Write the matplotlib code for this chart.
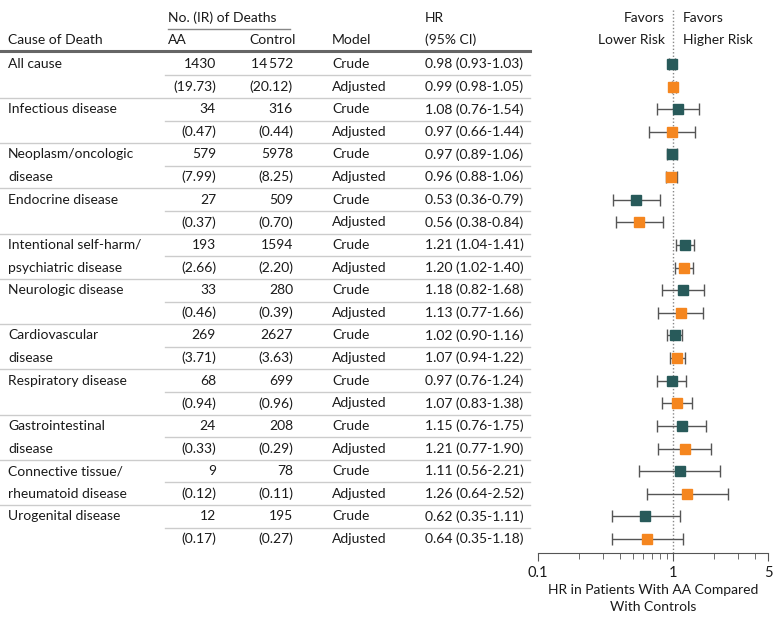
import matplotlib.pyplot as plt
from matplotlib.lines import Line2D
from matplotlib.ticker import FixedLocator, NullFormatter

plt.rcParams['font.family'] = ['Lato', 'DejaVu Sans']

# data
causes = [('All cause', ''), ('Infectious disease', ''), ('Neoplasm/oncologic', 'disease'),
          ('Endocrine disease', ''), ('Intentional self-harm/', 'psychiatric disease'),
          ('Neurologic disease', ''), ('Cardiovascular', 'disease'), ('Respiratory disease', ''),
          ('Gastrointestinal', 'disease'), ('Connective tissue/', 'rheumatoid disease'),
          ('Urogenital disease', '')]
aa_n = ['1430', '34', '579', '27', '193', '33', '269', '68', '24', '9', '12']
ctl_n = ['14\u2009572', '316', '5978', '509', '1594', '280', '2627', '699', '208', '78', '195']
aa_ir = ['19.73', '0.47', '7.99', '0.37', '2.66', '0.46', '3.71', '0.94', '0.33', '0.12', '0.17']
ctl_ir = ['20.12', '0.44', '8.25', '0.70', '2.20', '0.39', '3.63', '0.96', '0.29', '0.11', '0.27']
crude_hr = [0.98, 1.08, 0.97, 0.53, 1.21, 1.18, 1.02, 0.97, 1.15, 1.11, 0.62]
crude_lo = [0.93, 0.76, 0.89, 0.36, 1.04, 0.82, 0.90, 0.76, 0.76, 0.56, 0.35]
crude_hi = [1.03, 1.54, 1.06, 0.79, 1.41, 1.68, 1.16, 1.24, 1.75, 2.21, 1.11]
adj_hr = [0.99, 0.97, 0.96, 0.56, 1.20, 1.13, 1.07, 1.07, 1.21, 1.26, 0.64]
adj_lo = [0.98, 0.66, 0.88, 0.38, 1.02, 0.77, 0.94, 0.83, 0.77, 0.64, 0.35]
adj_hi = [1.05, 1.44, 1.06, 0.84, 1.40, 1.66, 1.22, 1.38, 1.90, 2.52, 1.18]

teal = '#285a5a'
orange = '#f5861f'
W, H = 780, 625
fs = 10

fig = plt.figure(figsize=(7.8, 6.25), dpi=100)


def fx(px):
    return px / W


def fy(py):
    return 1 - py / H


def txt(x, y, s, ha='left', **kw):
    fig.text(fx(x), fy(y), s, ha=ha, va='center', fontsize=fs, color='#1a1a1a', **kw)


def hline(x0, x1, y, color='#cccccc', lw=1.0):
    fig.add_artist(Line2D([fx(x0), fx(x1)], [fy(y), fy(y)], color=color, lw=lw))


row0, step = 64, 22.62

# headers
txt(168, 18, 'No. (IR) of Deaths')
hline(168, 290, 29, color='#888888', lw=1.0)
txt(8, 40, 'Cause of Death')
txt(168, 40, 'AA')
txt(249, 40, 'Control')
txt(332, 40, 'Model')
txt(425, 18, 'HR')
txt(425, 40, '(95% CI)')
hline(0, 530, 51, color='#666666', lw=2.2)

for i in range(len(causes)):
    yc = row0 + 2 * i * step
    ya = yc + step
    txt(8, yc, causes[i][0])
    if causes[i][1]:
        txt(8, ya, causes[i][1])
    txt(216, yc, aa_n[i], ha='right')
    txt(293, yc, ctl_n[i], ha='right')
    txt(216, ya, '(' + aa_ir[i] + ')', ha='right')
    txt(293, ya, '(' + ctl_ir[i] + ')', ha='right')
    txt(332, yc, 'Crude')
    txt(332, ya, 'Adjusted')
    txt(425, yc, '%.2f (%.2f-%.2f)' % (crude_hr[i], crude_lo[i], crude_hi[i]))
    txt(425, ya, '%.2f (%.2f-%.2f)' % (adj_hr[i], adj_lo[i], adj_hi[i]))
    hline(165, 530, yc + step / 2)
    if i < len(causes) - 1:
        hline(0, 530, ya + step / 2)

# forest plot
ax = fig.add_axes([fx(538), fy(553), fx(768) - fx(538), fy(10) - fy(553)])
ax.set_xscale('log')
ax.set_xlim(0.1, 5)
n = len(causes)
yc_rows = [2 * i for i in range(n)]
ya_rows = [2 * i + 1 for i in range(n)]
ax.set_ylim(21 + 14 / step, -54 / step)

ax.axvline(1, color='#888888', lw=1, ls=(0, (1, 1.5)), zorder=1)
for rows, hr, lo, hi, c in [(yc_rows, crude_hr, crude_lo, crude_hi, teal),
                            (ya_rows, adj_hr, adj_lo, adj_hi, orange)]:
    err = [[h - l for h, l in zip(hr, lo)], [u - h for h, u in zip(hr, hi)]]
    ax.errorbar(hr, rows, xerr=err, fmt='none', ecolor='#555555', elinewidth=1,
                capsize=4, capthick=1, zorder=2)
    ax.plot(hr, rows, 's', color=c, markersize=7.5, zorder=3)

for s in ['top', 'right', 'left']:
    ax.spines[s].set_visible(False)
ax.spines['bottom'].set_color('#555555')
ax.set_yticks([])
ax.xaxis.set_major_locator(FixedLocator([0.1, 1, 5]))
ax.set_xticklabels(['0.1', '1', '5'])
ax.xaxis.set_minor_locator(FixedLocator([0.2, 0.3, 0.4, 0.5, 0.6, 0.7, 0.8, 0.9, 2, 3, 4]))
ax.xaxis.set_minor_formatter(NullFormatter())
ax.tick_params(axis='x', which='both', color='#555555', labelsize=fs + 0.5, labelcolor='#1a1a1a')
ax.tick_params(axis='x', which='major', length=6)
ax.tick_params(axis='x', which='minor', length=4)
ax.set_xlabel('HR in Patients With AA Compared\nWith Controls', fontsize=fs, color='#1a1a1a',
              labelpad=3, linespacing=1.45)

txt(665, 18, 'Favors', ha='right')
txt(665, 40, 'Lower Risk', ha='right')
txt(683, 18, 'Favors')
txt(683, 40, 'Higher Risk')

fig.savefig('out.png', dpi=100)
